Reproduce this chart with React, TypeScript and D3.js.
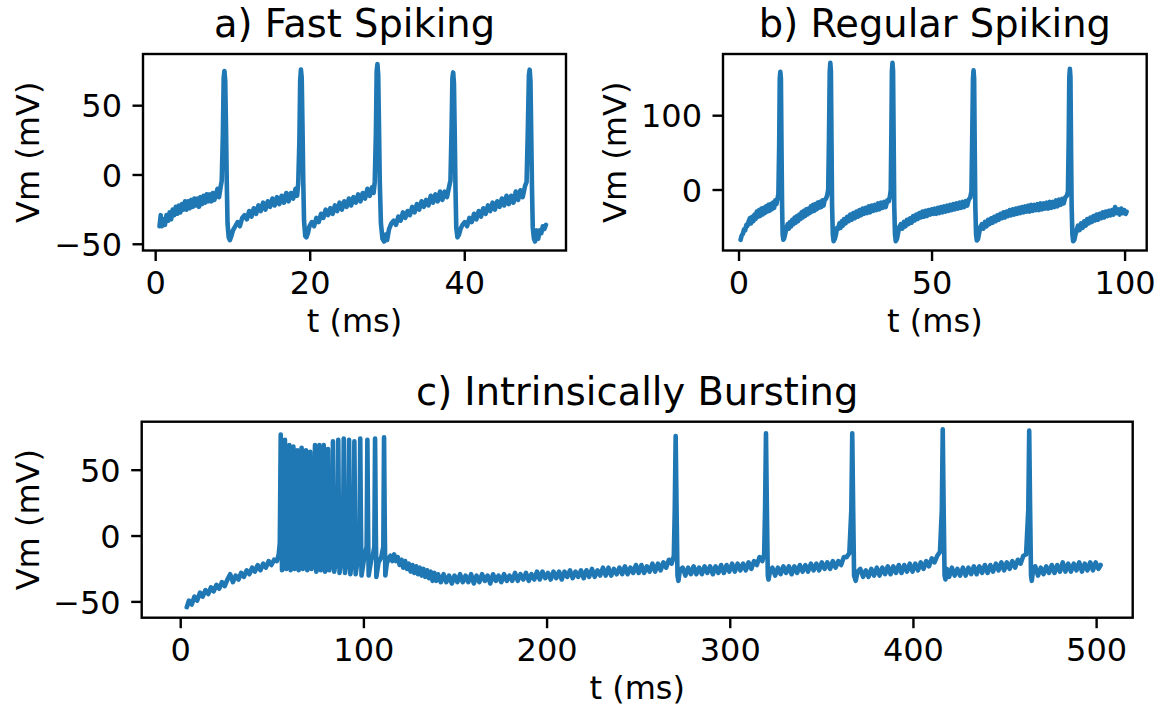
import React from "react";
import * as d3 from "d3";

// ---------- data (t in ms, Vm in mV) ----------
const fastSpiking: [number, number][] = [
  [0.5,-37],[0.65,-29],[0.8,-37],[1.0,-32],[1.2,-36],[1.4,-29],[1.6,-33],[1.8,-27],[2.0,-32],[2.2,-25],[2.4,-29],[2.6,-23],[2.8,-28],[3.0,-22],[3.2,-27],[3.4,-21],[3.6,-25],[3.8,-19],[4.0,-25],[4.2,-19],[4.4,-24],[4.6,-18],[4.8,-23],[5.0,-17],[5.2,-22],[5.4,-17],[5.6,-23],[5.8,-16],[6.0,-21],[6.2,-15],[6.4,-20],[6.6,-14],[6.8,-19],[7.0,-14],[7.2,-19],[7.4,-13],[7.6,-18],[7.8,-14],[8.0,-10],[8.2,-16],[8.4,-9],[8.55,-4],[8.7,30],[8.8,70],[8.9,75],[9.0,68],[9.1,35],[9.2,-5],[9.3,-35],[9.45,-45],[9.6,-47],
  [9.8,-44],[10.0,-40],[10.3,-37],[10.6,-34],[10.9,-37],[11.2,-31],[11.5,-29],[11.8,-32],[12.1,-26],[12.4,-30],[12.7,-24],[13.0,-28],[13.3,-22],[13.6,-26],[13.9,-20],[14.2,-25],[14.5,-19],[14.8,-23],[15.1,-17],[15.4,-22],[15.7,-16],[16.0,-21],[16.3,-15],[16.6,-20],[16.9,-13],[17.2,-19],[17.5,-13],[17.8,-17],[18.1,-10],[18.3,-15],[18.45,-6],[18.6,25],[18.7,68],[18.8,76],[18.9,70],[19.0,35],[19.1,-5],[19.2,-33],[19.35,-44],[19.5,-45],
  [19.7,-42],[19.9,-37],[20.2,-34],[20.5,-37],[20.8,-31],[21.1,-34],[21.4,-28],[21.7,-31],[22.0,-25],[22.3,-29],[22.6,-24],[22.9,-28],[23.2,-22],[23.5,-26],[23.8,-20],[24.1,-25],[24.4,-19],[24.7,-23],[25.0,-17],[25.3,-22],[25.6,-16],[25.9,-20],[26.2,-14],[26.5,-19],[26.8,-13],[27.1,-17],[27.4,-10],[27.7,-15],[28.0,-9],[28.2,-13],[28.35,-5],[28.5,30],[28.6,75],[28.7,80],[28.8,72],[28.9,35],[29.0,-5],[29.15,-35],[29.35,-46],[29.55,-48],
  [29.75,-43],[29.95,-47],[30.2,-39],[30.5,-35],[30.8,-33],[31.1,-36],[31.4,-30],[31.7,-33],[32.0,-27],[32.3,-31],[32.6,-26],[32.9,-29],[33.2,-23],[33.5,-27],[33.8,-21],[34.1,-25],[34.4,-19],[34.7,-23],[35.0,-18],[35.3,-22],[35.6,-15],[35.9,-20],[36.2,-14],[36.5,-19],[36.8,-12],[37.1,-18],[37.4,-12],[37.7,-16],[37.95,-9],[38.15,-4],[38.3,35],[38.4,70],[38.5,74],[38.6,66],[38.7,30],[38.8,-10],[38.9,-38],[39.05,-45],
  [39.25,-43],[39.45,-39],[39.7,-36],[40.0,-34],[40.3,-37],[40.6,-31],[40.9,-34],[41.2,-28],[41.5,-32],[41.8,-26],[42.1,-30],[42.4,-24],[42.7,-28],[43.0,-22],[43.3,-26],[43.6,-20],[43.9,-25],[44.2,-19],[44.5,-23],[44.8,-17],[45.1,-22],[45.4,-15],[45.7,-21],[46.0,-15],[46.3,-20],[46.6,-12],[46.9,-18],[47.2,-11],[47.5,-16],[47.8,-8],[48.0,-5],[48.15,30],[48.3,72],[48.4,76],[48.5,68],[48.6,30],[48.7,-10],[48.8,-38],[48.95,-46],[49.1,-48],[49.3,-40],[49.5,-46],[49.7,-40],[49.9,-42],[50.1,-37],[50.3,-39],[50.5,-36],
];

const regularSpiking: [number, number][] = [
  [0.4,-67],[0.7,-61],[1.0,-59],[1.3,-53],[1.6,-54],[1.9,-47],[2.2,-48],[2.5,-42],[2.8,-38],[3.1,-45],[3.4,-36],[3.7,-42],[4.0,-33],[4.3,-39],[4.6,-29],[4.9,-36],[5.2,-27],[5.5,-35],[5.8,-25],[6.1,-33],[6.4,-24],[6.7,-31],[7.0,-22],[7.3,-29],[7.6,-20],[7.9,-28],[8.2,-19],[8.5,-26],[8.8,-17],[9.1,-24],[9.4,-14],[9.7,-19],[10.0,-11],[10.2,-5],[10.4,60],[10.55,150],[10.7,159],[10.85,150],[11.0,60],[11.15,-20],[11.3,-60],[11.5,-67],[11.7,-65],
  [12.0,-58],[12.3,-51],[12.6,-46],[12.9,-52],[13.2,-43],[13.5,-49],[13.8,-40],[14.1,-46],[14.4,-37],[14.7,-44],[15.0,-35],[15.3,-42],[15.6,-33],[15.9,-39],[16.2,-30],[16.5,-37],[16.8,-28],[17.1,-35],[17.4,-26],[17.7,-33],[18.0,-25],[18.3,-31],[18.6,-22],[18.9,-29],[19.2,-20],[19.5,-28],[19.8,-19],[20.1,-26],[20.4,-17],[20.7,-24],[21.0,-16],[21.3,-23],[21.6,-14],[21.9,-21],[22.2,-13],[22.5,-12],[22.8,-8],[23.1,0],[23.3,70],[23.5,160],[23.65,171],[23.8,160],[23.95,70],[24.1,-20],[24.3,-60],[24.5,-69],[24.8,-66],
  [25.1,-60],[25.4,-51],[25.7,-52],[26.0,-45],[26.3,-51],[26.6,-42],[26.9,-48],[27.2,-39],[27.6,-45],[28.0,-36],[28.4,-42],[28.8,-33],[29.2,-40],[29.6,-31],[30.0,-38],[30.4,-29],[30.8,-36],[31.2,-27],[31.6,-34],[32.0,-25],[32.4,-32],[32.8,-24],[33.2,-31],[33.6,-22],[34.0,-30],[34.4,-21],[34.8,-28],[35.2,-20],[35.6,-27],[36.0,-18],[36.4,-26],[36.8,-17],[37.2,-24],[37.6,-16],[38.0,-23],[38.4,-14],[38.8,-15],[39.1,-8],[39.3,0],[39.45,70],[39.6,160],[39.75,171],[39.9,160],[40.05,70],[40.2,-20],[40.4,-60],[40.6,-69],[40.9,-66],
  [41.2,-58],[41.5,-50],[41.9,-46],[42.3,-52],[42.7,-43],[43.1,-49],[43.5,-40],[43.9,-46],[44.3,-38],[44.7,-44],[45.1,-35],[45.5,-41],[45.9,-33],[46.3,-39],[46.7,-31],[47.1,-37],[47.5,-29],[47.9,-36],[48.3,-28],[48.7,-35],[49.1,-27],[49.5,-33],[49.9,-26],[50.3,-32],[50.7,-25],[51.1,-32],[51.5,-24],[51.9,-31],[52.3,-23],[52.7,-30],[53.1,-22],[53.5,-29],[53.9,-21],[54.3,-28],[54.7,-20],[55.1,-27],[55.5,-19],[55.9,-26],[56.3,-18],[56.7,-25],[57.1,-17],[57.5,-24],[57.9,-16],[58.3,-23],[58.7,-15],[59.1,-21],[59.5,-13],[59.9,-10],[60.2,-2],[60.4,70],[60.6,150],[60.75,161],[60.9,150],[61.05,60],[61.2,-20],[61.4,-60],[61.6,-68],[61.9,-66],
  [62.2,-58],[62.5,-50],[62.9,-46],[63.3,-52],[63.7,-43],[64.1,-49],[64.5,-40],[64.9,-46],[65.3,-38],[65.7,-44],[66.1,-36],[66.5,-42],[66.9,-34],[67.3,-40],[67.7,-32],[68.1,-38],[68.5,-30],[68.9,-37],[69.3,-29],[69.7,-35],[70.1,-27],[70.5,-34],[70.9,-26],[71.3,-33],[71.7,-25],[72.1,-32],[72.5,-24],[72.9,-31],[73.3,-23],[73.7,-30],[74.1,-22],[74.5,-29],[74.9,-21],[75.3,-29],[75.7,-20],[76.1,-28],[76.5,-20],[76.9,-27],[77.3,-19],[77.7,-27],[78.1,-18],[78.5,-26],[78.9,-18],[79.3,-25],[79.7,-17],[80.1,-25],[80.5,-16],[80.9,-24],[81.3,-16],[81.7,-23],[82.1,-14],[82.5,-22],[82.9,-13],[83.3,-20],[83.7,-12],[84.1,-18],[84.5,-10],[84.9,-8],[85.2,-2],[85.4,70],[85.55,152],[85.7,163],[85.85,152],[86.0,60],[86.15,-20],[86.35,-60],[86.55,-69],[86.85,-67],
  [87.15,-60],[87.45,-54],[87.8,-48],[88.2,-54],[88.6,-45],[89.0,-51],[89.4,-42],[89.8,-48],[90.2,-39],[90.6,-45],[91.0,-37],[91.4,-43],[91.8,-35],[92.2,-41],[92.6,-33],[93.0,-40],[93.4,-32],[93.8,-38],[94.2,-30],[94.6,-37],[95.0,-29],[95.4,-35],[95.8,-28],[96.2,-34],[96.6,-27],[97.0,-33],[97.4,-23],[97.8,-31],[98.2,-26],[98.6,-33],[99.0,-25],[99.4,-31],[99.8,-27],[100.2,-32],[100.4,-29],
];

const intrinsicBursting: [number, number][] = [
  [3.3,-54],[4.5,-49],[6,-52],[7.5,-46],[9,-49],[10.5,-43],[12,-46],[13.5,-41],[15,-44],[16.5,-39],[18,-42],[19.5,-37],[21,-40],[22.5,-35],[24,-38],[25.5,-33],[27,-29],[28.5,-35],[30,-30],[31.5,-33],[33,-28],[34.5,-31],[36,-26],[37.5,-29],[39,-24],[40.5,-27],[42,-22],[43.5,-26],[45,-21],[46.5,-24],[48,-19],[49.5,-22],[51,-18],[52.5,-19],[53.5,-14],
  [54.1,-5],[54.6,77],[55.0,10],[55.3,-26],[55.9,-20],[56.5,-8],[56.9,73],[57.3,5],[57.6,-25],[58.3,-20],[58.9,-8],[59.3,69],[59.7,5],[60.0,-26],[60.6,-20],[61.1,-8],[61.5,68],[61.9,5],[62.2,-25],[62.8,-20],[63.3,-8],[63.7,65],[64.1,5],[64.4,-26],[65.0,-20],[65.6,-8],[66.0,67],[66.4,5],[66.7,-25],[67.4,-19],[68.0,-8],[68.4,65],[68.8,5],[69.1,-26],[69.7,-20],[70.3,-8],[70.7,64],[71.1,5],[71.4,-25],[72.1,-20],[72.9,-8],[73.3,69],[73.7,5],[74.0,-27],[74.7,-20],[75.3,-8],[75.7,69],[76.1,5],[76.4,-26],[77.1,-20],[77.7,-8],[78.1,69],[78.5,5],[78.8,-27],[79.5,-20],[80.0,-8],[80.4,66],[80.8,5],[81.1,-26],[81.9,-19],[82.7,-8],[83.1,72],[83.5,5],[83.8,-27],[84.7,-19],[85.6,-8],[86.0,73],[86.4,5],[86.7,-28],[87.7,-19],[88.6,-8],[89.0,74],[89.4,5],[89.7,-28],[90.6,-19],[91.5,-8],[91.9,73],[92.3,5],[92.6,-29],[93.5,-19],[94.4,-8],[94.8,72],[95.2,5],[95.5,-29],[96.6,-18],[97.6,-8],[98.0,74],[98.4,5],[98.7,-30],[100.0,-18],[101.5,-8],[101.9,73],[102.3,5],[102.6,-30],[104.0,-18],[105.0,-14],[105.7,-8],[106.1,74],[106.5,5],[106.8,-31],[108.0,-20],[109.5,-16],[110.6,-8],[111.0,75],[111.4,5],[111.7,-30],
  [112.5,-21],[113.5,-17],[114.5,-15],[115.5,-19],[116.5,-14],[117.5,-19],[118.5,-16],[119.5,-22],[120.5,-18],[121.5,-24],[122.5,-19],[123.5,-25],[124.5,-21],[125.5,-27],[126.5,-22],[127.5,-28],[128.5,-23],[129.5,-29],[130.5,-24],[131.5,-30],[132.5,-25],[133.5,-31],[134.5,-26],[135.5,-32],[136.5,-27],[137.5,-34],[138.5,-28],[139.5,-34],[140.5,-29],[142,-35],[143.5,-29],[145,-35],[146.5,-30],[148,-36],[149.5,-30],[151,-35],[152.5,-29],[154,-35],[155.5,-30],[157,-35],[158.5,-29],[160,-36],[161.5,-30],[163,-35],[164.5,-29],[166,-34],[167.5,-30],[169,-36],[170.5,-29],[172,-34],[173.5,-30],[175,-35],[176.5,-29],[178,-34],[179.5,-30],[181,-34],[182.5,-28],[184,-34],[185.5,-29],[187,-33],[188.5,-28],[190,-34],[191.5,-29],[193,-33],[194.5,-27],[196,-33],[197.5,-27],[199,-32],[200.5,-28],[202,-33],[203.5,-27],[205,-32],[206.5,-27],[208,-33],[209.5,-27],[211,-31],[212.5,-26],[214,-32],[215.5,-27],[217,-31],[218.5,-26],[220,-32],[221.5,-26],[223,-31],[224.5,-25],[226,-31],[227.5,-26],[229,-30],[230.5,-24],[232,-30],[233.5,-24],[235,-30],[236.5,-25],[238,-29],[239.5,-24],[241,-29],[242.5,-23],[244,-29],[245.5,-24],[247,-28],[248.5,-22],[250,-28],[251.5,-22],[253,-28],[254.5,-23],[256,-27],[257.5,-21],[259,-27],[260.5,-21],[262,-26],[263.5,-20],[265,-24],[266.5,-18],[268,-21],[269.2,-15],[269.7,20],[270.2,76],[270.7,20],[271.2,-30],[271.7,-34],
  [272.5,-26],[274,-24],[275.5,-30],[277,-24],[278.5,-29],[280,-23],[281.5,-29],[283,-24],[284.5,-29],[286,-23],[287.5,-28],[289,-23],[290.5,-29],[292,-23],[293.5,-28],[295,-22],[296.5,-28],[298,-22],[299.5,-27],[301,-21],[302.5,-27],[304,-21],[305.5,-26],[307,-21],[308.5,-26],[310,-20],[311.5,-25],[313,-19],[314.5,-22],[316,-16],[317.5,-19],[318.5,-14],[319,20],[319.5,78],[320,20],[320.5,-30],[320.9,-33],
  [321.8,-26],[323,-24],[324.5,-30],[326,-24],[327.5,-29],[329,-23],[330.5,-28],[332,-23],[333.5,-29],[335,-23],[336.5,-28],[338,-22],[339.5,-27],[341,-22],[342.5,-27],[344,-21],[345.5,-26],[347,-21],[348.5,-26],[350,-20],[351.5,-25],[353,-20],[354.5,-25],[356,-19],[357.5,-24],[359,-19],[360.5,-22],[362,-16],[363.5,-16],[365,-13],[366.1,20],[366.6,78],[367.1,20],[367.6,-30],[368.5,-34],
  [369.5,-27],[371,-25],[372.5,-31],[374,-26],[375.5,-31],[377,-25],[378.5,-30],[380,-24],[381.5,-30],[383,-24],[384.5,-29],[386,-23],[387.5,-29],[389,-23],[390.5,-28],[392,-22],[393.5,-28],[395,-22],[396.5,-27],[398,-21],[399.5,-27],[401,-21],[402.5,-26],[404,-20],[405.5,-25],[407,-19],[408.5,-23],[410,-17],[411.5,-20],[413,-15],[414.5,-12],[415.5,20],[416,81],[416.5,20],[417,-30],[417.5,-33],
  [418.3,-25],[419.5,-31],[421,-24],[422.5,-30],[424,-25],[425.5,-30],[427,-24],[428.5,-30],[430,-24],[431.5,-29],[433,-23],[434.5,-29],[436,-23],[437.5,-28],[439,-22],[440.5,-28],[442,-22],[443.5,-27],[445,-21],[446.5,-26],[448,-20],[449.5,-26],[451,-20],[452.5,-25],[454,-19],[455.5,-24],[457,-18],[458.5,-21],[460,-15],[461.5,-14],[462.7,20],[463.2,80],[463.7,20],[464.2,-30],[464.6,-34],
  [465.3,-26],[466.5,-23],[468,-30],[469.5,-24],[471,-29],[472.5,-23],[474,-28],[475.5,-22],[477,-28],[478.5,-22],[480,-27],[481.5,-20],[483,-27],[484.5,-21],[486,-27],[487.5,-21],[489,-26],[490.5,-20],[492,-27],[493.5,-21],[495,-26],[496.5,-20],[498,-26],[499.5,-20],[501,-25],[502.2,-22],
];

const fsXTicks = [0, 20, 40];
const fsYTicks = [-50, 0, 50];
const rsXTicks = [0, 50, 100];
const rsYTicks = [0, 100];
const ibXTicks = [0, 100, 200, 300, 400, 500];
const ibYTicks = [-50, 0, 50];

const titles = ["a) Fast Spiking", "b) Regular Spiking", "c) Intrinsically Bursting"];
const xLabel = "t (ms)";
const yLabel = "Vm (mV)";

// ---------- style ----------
const FONT = "DejaVu Sans, Verdana, sans-serif";
const LINE_COLOR = "#1f77b4";
const TICK_FS = 32;
const LABEL_FS = 32;
const TITLE_FS = 38.4;

type PanelProps = {
  data: [number, number][];
  title: string;
  xTicks: number[];
  yTicks: number[];
  box: { left: number; right: number; top: number; bottom: number };
  xDomain: [number, number];
  yDomain: [number, number];
  yLabelX: number;
  id: string;
};

function Panel({ data, title, xTicks, yTicks, box, xDomain, yDomain, yLabelX, id }: PanelProps) {
  const x = d3.scaleLinear().domain(xDomain).range([box.left, box.right]);
  const y = d3.scaleLinear().domain(yDomain).range([box.bottom, box.top]);
  const line = d3
    .line<[number, number]>()
    .x((d) => x(d[0]))
    .y((d) => y(d[1]));
  const fmt = d3.format("d");
  const cx = (box.left + box.right) / 2;
  const cy = (box.top + box.bottom) / 2;
  const tickLen = 10.5;
  return (
    <g>
      <defs>
        <clipPath id={id}>
          <rect x={box.left} y={box.top} width={box.right - box.left} height={box.bottom - box.top} />
        </clipPath>
      </defs>
      <path
        d={line(data) || ""}
        fill="none"
        stroke={LINE_COLOR}
        strokeWidth={4.6}
        strokeLinejoin="round"
        strokeLinecap="round"
        clipPath={`url(#${id})`}
      />
      <rect
        x={box.left}
        y={box.top}
        width={box.right - box.left}
        height={box.bottom - box.top}
        fill="none"
        stroke="#000"
        strokeWidth={2.4}
      />
      {xTicks.map((t) => (
        <g key={"x" + t}>
          <line x1={x(t)} x2={x(t)} y1={box.bottom} y2={box.bottom + tickLen} stroke="#000" strokeWidth={2.4} />
          <text x={x(t)} y={box.bottom + 43.5} textAnchor="middle" fontSize={TICK_FS} fontFamily={FONT} fill="#000">
            {fmt(t)}
          </text>
        </g>
      ))}
      {yTicks.map((t) => (
        <g key={"y" + t}>
          <line x1={box.left - tickLen} x2={box.left} y1={y(t)} y2={y(t)} stroke="#000" strokeWidth={2.4} />
          <text x={box.left - 21} y={y(t) + 11.7} textAnchor="end" fontSize={TICK_FS} fontFamily={FONT} fill="#000">
            {fmt(t)}
          </text>
        </g>
      ))}
      <text x={cx} y={box.bottom + 81} textAnchor="middle" fontSize={LABEL_FS} fontFamily={FONT} fill="#000">
        {xLabel}
      </text>
      <text
        transform={`translate(${yLabelX},${cy}) rotate(-90)`}
        textAnchor="middle"
        fontSize={LABEL_FS}
        fontFamily={FONT}
        fill="#000"
      >
        {yLabel}
      </text>
      <text x={cx} y={box.top - 17} textAnchor="middle" fontSize={TITLE_FS} fontFamily={FONT} fill="#000">
        {title}
      </text>
    </g>
  );
}

export default function App() {
  return (
    <svg
      width={1163}
      height={708}
      style={{ position: "absolute", left: 0, top: 0, background: "#fff" }}
    >
      <rect x={0} y={0} width={1163} height={708} fill="#fff" />
      <Panel
        id="clipA"
        data={fastSpiking}
        title={titles[0]}
        xTicks={fsXTicks}
        yTicks={fsYTicks}
        box={{ left: 143, right: 566, top: 54, bottom: 250.5 }}
        xDomain={[-1.64, 53.1]}
        yDomain={[-54.5, 87.3]}
        yLabelX={39}
      />
      <Panel
        id="clipB"
        data={regularSpiking}
        title={titles[1]}
        xTicks={rsXTicks}
        yTicks={rsYTicks}
        box={{ left: 723, right: 1146.7, top: 54, bottom: 250.5 }}
        xDomain={[-4.15, 105.6]}
        yDomain={[-81.4, 183]}
        yLabelX={626}
      />
      <Panel
        id="clipC"
        data={intrinsicBursting}
        title={titles[2]}
        xTicks={ibXTicks}
        yTicks={ibYTicks}
        box={{ left: 141.7, right: 1132.7, top: 421.7, bottom: 617.7 }}
        xDomain={[-21.3, 519.7]}
        yDomain={[-62, 86.8]}
        yLabelX={39}
      />
    </svg>
  );
}
